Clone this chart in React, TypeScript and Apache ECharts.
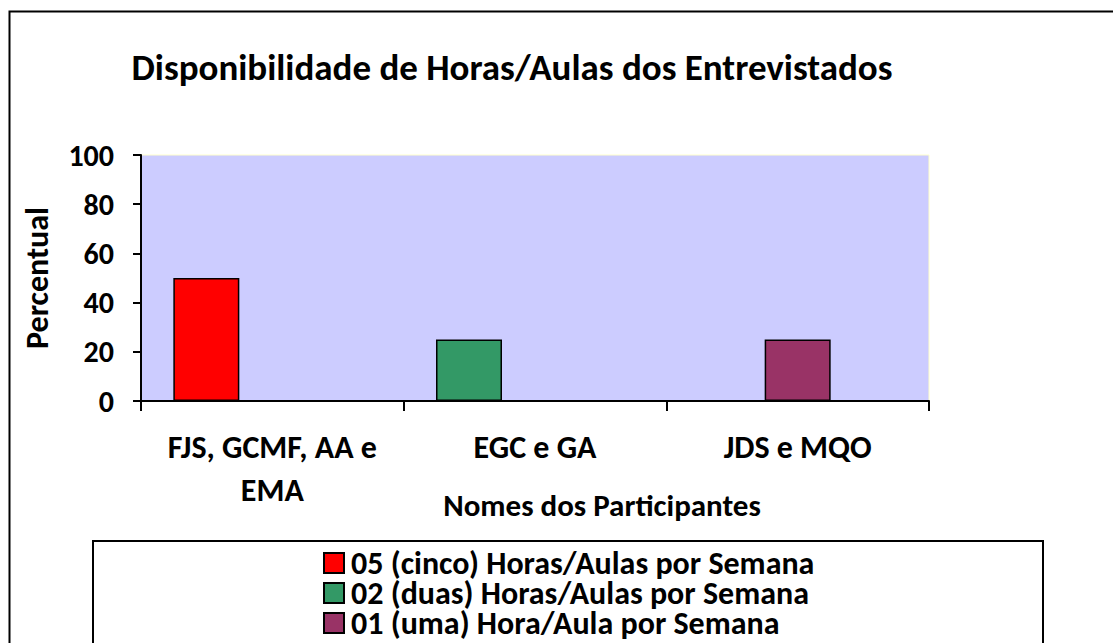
import React, { useEffect, useRef } from "react";
import * as echarts from "echarts";

const categories = ["FJS, GCMF, AA e EMA", "EGC e GA", "JDS e MQO"];
const seriesNames = [
  "05 (cinco) Horas/Aulas por Semana",
  "02 (duas) Horas/Aulas por Semana",
  "01 (uma) Hora/Aula por Semana",
];
const cinco = [50, null, null];
const duas = [null, 25, null];
const uma = [null, null, 25];
const yTicks = { min: 0, max: 100, interval: 20 };

const FONT = "Carlito, Lato, sans-serif";

export default function App() {
  const ref = useRef<HTMLDivElement>(null);
  useEffect(() => {
    if (!ref.current) return;
    const chart = echarts.init(ref.current, null, { renderer: "svg" });
    const barStyle = (color: string) => ({
      color,
      borderColor: "#000",
      borderWidth: 1.5,
    });
    chart.setOption({
      animation: false,
      backgroundColor: "#fff",
      textStyle: { fontFamily: FONT },
      title: {
        text: "Disponibilidade de Horas/Aulas dos Entrevistados",
        left: 507,
        textAlign: "center",
        top: 44,
        textStyle: { fontFamily: FONT, fontWeight: "bold", fontSize: 37, color: "#000" },
      },
      graphic: [
        {
          type: "rect",
          shape: { x: 9.5, y: 11.5, width: 1200, height: 800 },
          style: { fill: "none", stroke: "#000", lineWidth: 2 },
          silent: true,
          z: -1,
        },
        {
          type: "rect",
          shape: { x: 93, y: 541, width: 950, height: 200 },
          style: { fill: "none", stroke: "#000", lineWidth: 2 },
          silent: true,
        },
      ],
      legend: {
        orient: "vertical",
        left: 323,
        top: 547,
        height: 300,
        padding: 0,
        itemWidth: 20,
        itemHeight: 20,
        itemGap: -2,
        icon: "rect",
        data: seriesNames,
        textStyle: { fontFamily: FONT, fontWeight: "bold", fontSize: 32, color: "#000", padding: [0, 0, 0, 2] },
      },
      grid: {
        left: 141,
        top: 155,
        right: 1113 - 929,
        bottom: 643 - 401,
        show: true,
        backgroundColor: "#CCCCFF",
        borderColor: "#FFFFCC",
        borderWidth: 1,
      },
      xAxis: {
        type: "category",
        data: categories,
        name: "Nomes dos Participantes",
        nameLocation: "middle",
        nameGap: 88,
        nameMoveOverlap: false,
        nameTextStyle: { fontFamily: FONT, fontWeight: "bold", fontSize: 31, color: "#000", padding: [0, 0, 0, 134] },
        axisLine: { lineStyle: { color: "#000", width: 2 } },
        axisTick: { show: true, length: 10, lineStyle: { color: "#000", width: 2 } },
        axisLabel: {
          interval: 0,
          hideOverlap: false,
          margin: 25,
          fontFamily: FONT,
          fontWeight: "bold",
          fontSize: 32,
          color: "#000",
          lineHeight: 43,
          verticalAlign: "top",
          formatter: (v: string) => v.replace(" e EMA", " e\nEMA"),
        },
      },
      yAxis: {
        type: "value",
        min: yTicks.min,
        max: yTicks.max,
        interval: yTicks.interval,
        name: "Percentual",
        nameLocation: "middle",
        nameGap: 88,
        nameMoveOverlap: false,
        nameTextStyle: { fontFamily: FONT, fontWeight: "bold", fontSize: 32, color: "#000" },
        splitLine: { show: false },
        axisLine: { show: true, lineStyle: { color: "#000", width: 2 } },
        axisTick: { show: true, length: 8, lineStyle: { color: "#000", width: 2 } },
        axisLabel: { margin: 27, fontFamily: FONT, fontWeight: "bold", fontSize: 30, color: "#000" },
      },
      series: [
        { name: seriesNames[0], type: "bar", stack: "a", data: cinco, barWidth: 66, barGap: "0%", itemStyle: barStyle("#FF0000") },
        { name: seriesNames[1], type: "bar", stack: "a", data: duas, barWidth: 66, barGap: "0%", itemStyle: barStyle("#339966") },
        { name: seriesNames[2], type: "bar", stack: "b", data: uma, barWidth: 66, barGap: "0%", itemStyle: barStyle("#993366") },
        { name: "_empty", type: "bar", stack: "c", data: [null, null, null], barWidth: 66, barGap: "0%" },
      ],
    });
    return () => chart.dispose();
  }, []);
  return <div ref={ref} style={{ position: "fixed", left: 0, top: 0, width: 1113, height: 643 }} />;
}
